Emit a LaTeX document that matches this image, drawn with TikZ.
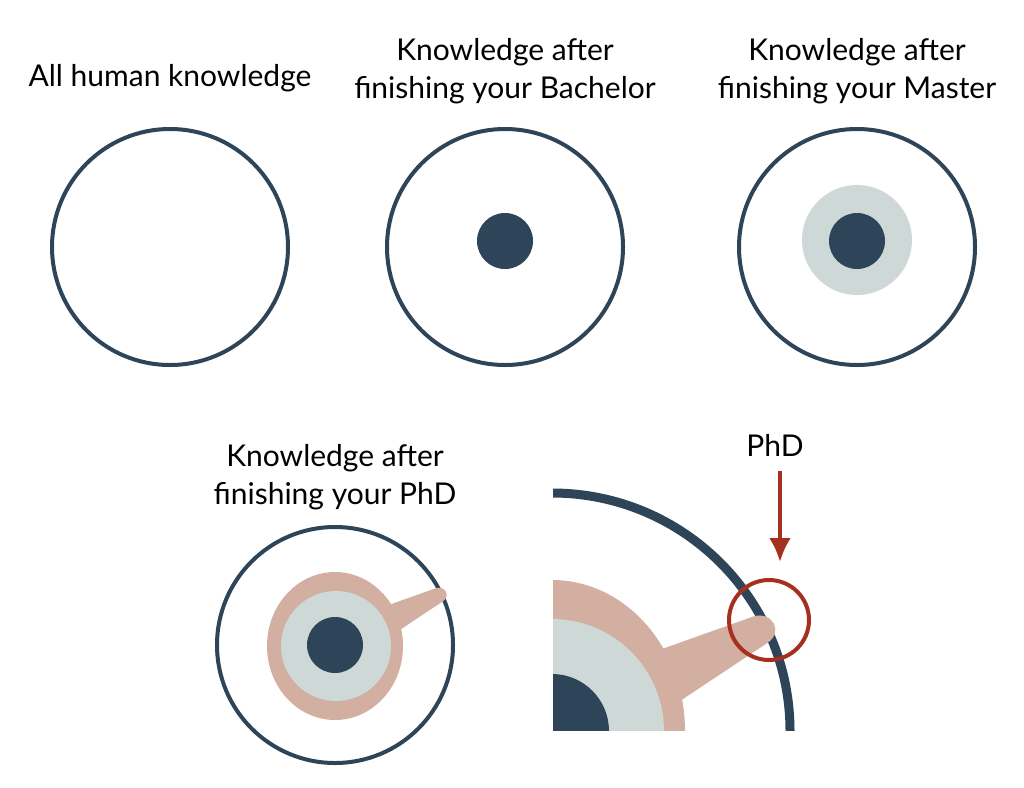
\documentclass[tikz,border=0pt]{standalone}
\usepackage{fontspec}
\setmainfont{Lato}
\usetikzlibrary{arrows.meta, positioning}
\definecolor{navy}{HTML}{2E4459}
\definecolor{mist}{HTML}{CDD8D7}
\definecolor{rose}{HTML}{D3AFA2}
\definecolor{brick}{HTML}{A6301F}
\tikzset{
    x=1pt, y=-1pt,
    ring/.style ={circle, draw=navy, line width=4pt, minimum size=236pt, inner sep=0pt},
    dot/.style = {circle, fill=navy, minimum size=56pt, inner sep=0pt},
    disc/.style = {circle, fill=mist, minimum size=110pt, inner sep=0pt},
    spot/.style = {circle, draw=brick, line width=4pt, minimum size=80pt, inner sep=0pt},
    caption/.style = {align=center, inner sep=0pt, font=\fontsize{30}{38}\selectfont},
    pointer/.style = {draw=brick, line width=4pt, -{Latex[length=24pt, width=22pt]}},
    finger/.pic = {\fill[rose] (-10,30) -- (112,15) .. controls (133,13) and (131,-12) .. (112,-15) -- (-10,-30) -- cycle;}
}

\begin{document}
\begin{tikzpicture}
  \useasboundingbox (0,0) rectangle (1024,787);

  % top row
  \node[ring] (all) at (170,247) {};
  \node[caption] (tall) at (170,78) {All human knowledge};

  \node[ring] (bach) at (505,247) {};
  \node[dot] (bachdot) at (505,241) {};
  \node[caption] (tbach) at (505,71) {Knowledge after\\finishing your Bachelor};

  \node[ring] (mast) at (857,247) {};
  \node[disc] (mastdisc) at (857,240) {};
  \node[dot] (mastdot) at (857,241) {};
  \node[caption] (tmast) at (857,71) {Knowledge after\\finishing your Master};

  % phd circle
  \node[ring] (phd) at (335,645) {};
  \fill[rose] (335,646) ellipse [x radius=68pt, y radius=74pt];
  \pic[scale=.5, rotate=26.6] at (389,620) {finger};
  \node[disc] (phddisc) at (336,646) {};
  \node[dot] (phddot) at (335,645) {};
  \node[caption] (tphd) at (335,477) {Knowledge after\\finishing your PhD};

  % zoomed part
  \begin{scope}
    \clip (553,470) rectangle (1024,730);
    \draw[navy, line width=9pt] (552,731) circle [radius=238pt];
    \fill[rose] (552,731) ellipse [x radius=133pt, y radius=151pt];
    \pic[rotate=26.6] at (660,680) {finger};
    \fill[mist] (552,731) circle [radius=112pt];
    \fill[navy] (552,731) circle [radius=57pt];
  \end{scope}
  \node[spot] (spot) at (769,620) {};
  \node[caption] (tspot) at (775,445) {PhD};
  \draw[pointer, shorten <=15pt, shorten >=16pt] ([xshift=5pt]tspot.south) -- ([xshift=11pt]spot.north);
\end{tikzpicture}
\end{document}
